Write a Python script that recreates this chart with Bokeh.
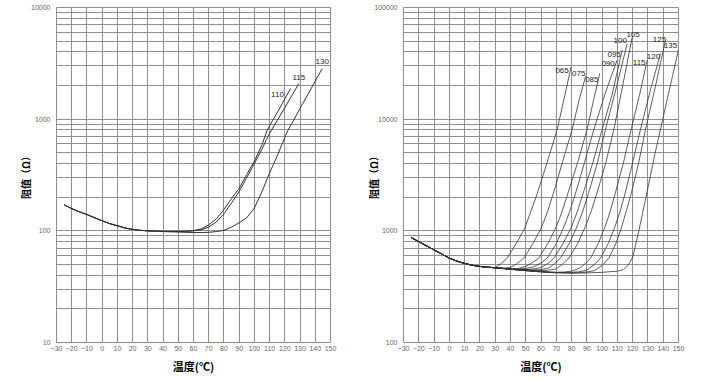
from bokeh.plotting import figure
from bokeh.layouts import row
from bokeh.models import Range1d, FixedTicker, NumeralTickFormatter, ColumnDataSource, Title
from bokeh.core.properties import value
from bokeh.embed import file_html
from bokeh.resources import INLINE

# ---------------- data ----------------
x_ticks = [-30, -20, -10, 0, 10, 20, 30, 40, 50, 60, 70, 80, 90, 100, 110, 120, 130, 140, 150]

# Left chart (10 .. 10000 ohm)
L_y_major = [10, 100, 1000, 10000]
L_T_common = [-25, -20, -15, -10, -5, 0, 5, 10, 15, 20, 25, 30, 35]
L_R_common = [171, 158, 148, 140, 131, 123, 116, 111, 106, 103, 101, 100, 99.3]
L_T_110 = [40, 45, 50, 55, 60, 65, 70, 75, 80, 85, 90, 95, 100, 105, 108.4, 112, 116, 120, 123.7]
L_R_110 = [99, 98.8, 98.8, 99.2, 100.5, 104, 113, 128, 155, 195, 240, 320, 420, 590, 795, 975, 1210, 1520, 1880]
L_T_115 = [40, 45, 50, 55, 60, 65, 70, 75, 80, 85, 90, 95, 100, 105, 108, 111.1, 115, 120, 125, 129.2]
L_R_115 = [99, 98.8, 98.8, 99, 100, 102, 108, 120, 142, 178, 225, 300, 400, 540, 660, 795, 975, 1270, 1660, 2080]
L_T_130 = [40, 45, 50, 55, 60, 65, 70, 75, 80, 85, 90, 95, 100, 105, 110, 115, 118, 122, 126, 130, 135, 140, 144.6]
L_R_130 = [98.5, 98, 97.5, 97, 96.5, 96.5, 97, 98.5, 101, 108, 118, 131, 160, 225, 330, 470, 590, 795, 990, 1250, 1650, 2190, 2840]
L_names = ["110", "115", "130"]

# Right chart (100 .. 100000 ohm)
R_y_major = [100, 1000, 10000, 100000]
R_T_common = [-25, -20, -15, -10, -5, 0, 5, 10, 15, 20, 25]
R_R_common = [870, 800, 735, 675, 620, 570, 535, 510, 492, 480, 472]
R_T_065 = [30, 34, 37.9, 44, 49.3, 53, 57.5, 64, 70.6, 75, 79.7]
R_R_065 = [470, 510, 568, 780, 1050, 1450, 2145, 4100, 8090, 15000, 29500]
R_T_075 = [30, 35, 40, 44, 48.7, 55, 60, 64, 68, 74, 80.4, 85, 89.3]
R_R_075 = [467, 463, 470, 505, 568, 780, 1050, 1450, 2145, 4100, 8090, 15000, 24400]
R_T_085 = [30, 35, 40, 45, 50, 54, 58.5, 64.5, 69.5, 73.5, 77.5, 84, 90.2, 94.5, 98.5]
R_R_085 = [467, 462, 457, 460, 480, 515, 568, 770, 1050, 1450, 2145, 4100, 8090, 15000, 25800]
R_T_090 = [30, 35, 40, 45, 50, 55, 60, 64, 70, 74.5, 78.5, 82.5, 88.5, 94.6, 102, 109.8]
R_R_090 = [467, 461, 456, 455, 460, 475, 515, 568, 770, 1050, 1450, 2145, 4100, 8090, 17000, 33800]
R_T_095 = [30, 35, 40, 45, 50, 55, 60, 64.5, 68.4, 74.5, 79.5, 83.5, 87.5, 94, 100, 106.5, 113.1]
R_R_095 = [467, 461, 455, 452, 450, 455, 470, 510, 568, 770, 1050, 1450, 2145, 4100, 8090, 16500, 41500]
R_T_100 = [30, 35, 40, 45, 50, 55, 60, 65, 69, 72.7, 78.5, 83, 87, 91, 97, 102.2, 109, 116.4]
R_R_100 = [467, 460, 454, 450, 448, 447, 450, 465, 510, 568, 770, 1050, 1450, 2145, 4100, 8090, 18500, 47500]
R_T_105 = [30, 35, 40, 45, 50, 55, 60, 65, 70, 74.5, 78.2, 84, 88.5, 92.5, 96.5, 102.5, 107.7, 113.5, 119.6]
R_R_105 = [467, 460, 453, 448, 445, 442, 440, 445, 455, 510, 568, 770, 1050, 1450, 2145, 4100, 8090, 20000, 53700]
R_T_115 = [30, 35, 40, 45, 50, 55, 60, 65, 70, 75, 80, 85, 89, 92.4, 97.5, 101.5, 105, 108.5, 114, 119, 124.5, 129.5]
R_R_115 = [467, 460, 453, 447, 442, 437, 432, 428, 425, 428, 435, 460, 510, 568, 770, 1050, 1450, 2145, 4100, 8090, 16500, 33800]
R_T_120 = [30, 35, 40, 45, 50, 55, 60, 65, 70, 75, 80, 85, 90, 95, 98.9, 104, 108, 111.5, 115, 120, 125.1, 131.5, 138.2]
R_R_120 = [467, 460, 453, 447, 441, 436, 431, 427, 424, 423, 425, 430, 445, 500, 568, 770, 1050, 1450, 2145, 4100, 8090, 18000, 38700]
R_T_125 = [30, 35, 40, 45, 50, 55, 60, 65, 70, 75, 80, 85, 90, 95, 100, 104.4, 109, 112.5, 115.5, 119, 124, 128.4, 135, 141.5]
R_R_125 = [467, 460, 453, 446, 440, 435, 430, 426, 423, 421, 420, 422, 428, 440, 490, 568, 770, 1050, 1450, 2145, 4100, 8090, 20000, 50800]
R_T_135 = [30, 35, 40, 50, 60, 70, 80, 90, 100, 105, 110, 114, 117, 120, 124, 128, 132, 135, 138.2, 142, 146, 150]
R_R_135 = [467, 460, 452, 440, 428, 420, 418, 420, 425, 430, 435, 450, 490, 580, 990, 1800, 3300, 5200, 8090, 13800, 24000, 42000]
R_names = ["065", "075", "085", "090", "095", "100", "105", "115", "120", "125", "135"]

# label placement (pixel offsets from each curve's end, +down)
L_dx = [-13, 0, 0]
L_dy = [6, -6, -7]
R_dx = [-9, -7, -8, -9, -8, -7, 1, -8, -7, -6, -8]
R_dy = [4, -2, 6, 3, 4, -3, -3, 2, 3, -1, -4]

GRID = "#8f8f8f"
CURVE = "#333333"
XLABEL = "温度(℃)"
YLABEL = "阻值（Ω）"


def make_fig(width, y_major, y0, y1, mb_left, mb_right, mb_bottom, ylab_standoff, xlab_offset):
    p = figure(width=width, height=382, y_axis_type="log",
               x_range=Range1d(-30, 150), y_range=Range1d(y0, y1),
               output_backend="svg", toolbar_location=None,
               min_border_left=mb_left, min_border_right=mb_right,
               min_border_top=7, min_border_bottom=mb_bottom)
    minor = [m * d for d in y_major[:-1] for m in range(2, 10)]
    p.xaxis.ticker = FixedTicker(ticks=x_ticks)
    p.yaxis.ticker = FixedTicker(ticks=y_major, minor_ticks=minor)
    p.yaxis.formatter = NumeralTickFormatter(format="0")
    for ax in (p.xaxis[0], p.yaxis[0]):
        ax.axis_line_color = None
        ax.major_tick_line_color = None
        ax.minor_tick_line_color = None
        ax.major_tick_out = 0
        ax.major_tick_in = 0
        ax.minor_tick_out = 0
        ax.minor_tick_in = 0
        ax.major_label_text_font = "Liberation Sans"
        ax.major_label_text_font_size = "7px"
        ax.major_label_text_color = "#666666"
        ax.axis_label_text_font = "Noto Sans CJK SC"
        ax.axis_label_text_font_style = "bold"
        ax.axis_label_text_color = "#000000"
    p.xaxis.major_label_standoff = 3
    p.yaxis.major_label_standoff = 6
    p.add_layout(Title(text=XLABEL, align="center", offset=xlab_offset, standoff=4,
                       text_font="Noto Sans CJK SC", text_font_size="11px",
                       text_font_style="bold", text_color="#000000"), "below")
    p.yaxis.axis_label = YLABEL
    p.yaxis.axis_label_text_font_size = "10px"
    p.yaxis.axis_label_standoff = ylab_standoff
    p.xgrid.grid_line_color = GRID
    p.ygrid.grid_line_color = GRID
    p.ygrid.minor_grid_line_color = GRID
    p.outline_line_color = GRID
    p.background_fill_color = "white"
    p.border_fill_color = "white"
    return p


def add_curves(p, Tc, Rc, tails, names, dx, dy, width):
    ex, ey = [], []
    for (tt, rr) in tails:
        p.line(Tc + tt, Rc + rr, line_color=CURVE, line_width=width)
        ex.append(tt[-1])
        ey.append(rr[-1])
    src = ColumnDataSource(dict(x=ex, y=ey, t=names, dx=dx, dy=dy))
    p.text(x="x", y="y", text="t", x_offset="dx", y_offset="dy", source=src,
           text_font=value("Liberation Sans"), text_font_size="8px",
           text_color="#222222", text_align="center", text_baseline="middle")


p1 = make_fig(358, L_y_major, 10, 10000, 56, 28, 40, -5, -10)
add_curves(p1, L_T_common, L_R_common,
           [(L_T_110, L_R_110), (L_T_115, L_R_115), (L_T_130, L_R_130)],
           L_names, L_dx, L_dy, 1.0)

p2 = make_fig(357, R_y_major, 100, 100000, 45, 37, 37, -10, 12)
add_curves(p2, R_T_common, R_R_common,
           [(R_T_065, R_R_065), (R_T_075, R_R_075), (R_T_085, R_R_085), (R_T_090, R_R_090),
            (R_T_095, R_R_095), (R_T_100, R_R_100), (R_T_105, R_R_105), (R_T_115, R_R_115),
            (R_T_120, R_R_120), (R_T_125, R_R_125), (R_T_135, R_R_135)],
           R_names, R_dx, R_dy, 0.8)

layout = row(p1, p2)
open("out.html", "w").write(file_html(layout, INLINE))
